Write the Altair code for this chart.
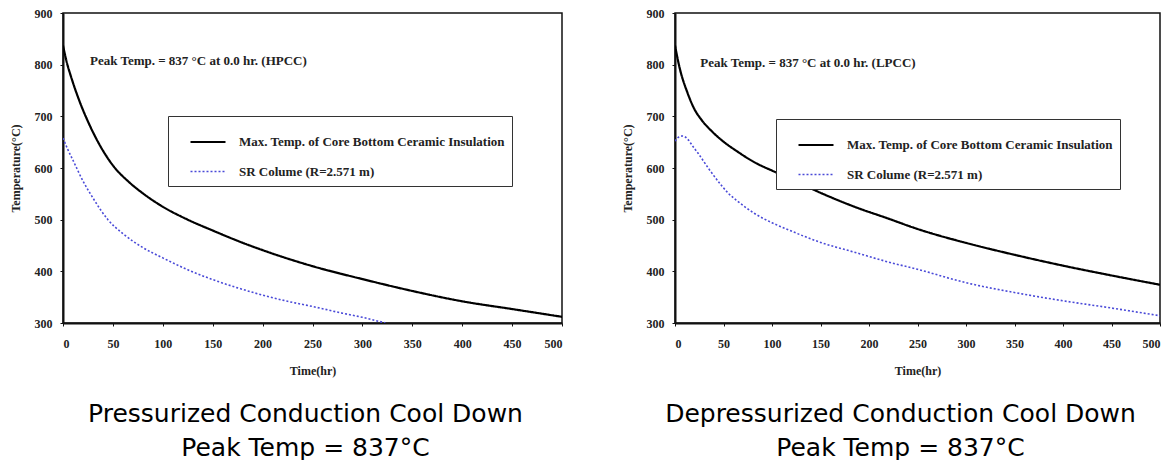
import altair as alt
import pandas as pd

# ---------------- data ----------------
SERIES = ["Max. Temp. of Core Bottom Ceramic Insulation", "SR Colume (R=2.571 m)"]

# Pressurized (HPCC)
hp_core_t = [0, 4, 8, 16, 25, 33, 50, 66, 80, 100, 125, 150, 175, 200, 250, 300, 350, 400, 450, 500]
hp_core_v = [837, 803, 777, 732, 690, 658, 605, 573, 551, 525, 500, 479, 459, 441, 410, 385, 362, 342, 327, 312]
hp_sr_t = [0, 5, 10, 20, 30, 45, 60, 80, 100, 125, 150, 175, 200, 225, 250, 280, 300, 323]
hp_sr_v = [658, 635, 615, 575, 542, 500, 473, 446, 426, 403, 384, 368, 354, 342, 332, 319, 311, 300]

# Depressurized (LPCC)
lp_core_t = [0, 5, 13, 20, 27, 38, 48, 65, 82, 100, 116, 150, 185, 220, 250, 300, 350, 400, 450, 500]
lp_core_v = [837, 792, 745, 714, 694, 671, 654, 631, 611, 595, 582, 552, 525, 502, 482, 455, 432, 411, 392, 374]
lp_sr_t = [0, 4, 8, 13, 18, 24, 35, 48, 55, 65, 82, 100, 116, 150, 185, 220, 250, 300, 350, 400, 450, 500]
lp_sr_v = [652, 660, 662, 656, 643, 628, 598, 566, 551, 535, 512, 494, 481, 456, 437, 418, 404, 378, 359, 343, 329, 314]

x_ticks = [0, 50, 100, 150, 200, 250, 300, 350, 400, 450, 500]
y_ticks = [300, 400, 500, 600, 700, 800, 900]

notes = ["Peak Temp. = 837 °C at 0.0 hr. (HPCC)", "Peak Temp. = 837 °C at 0.0 hr. (LPCC)"]
note_pos = [(27, 807), (26, 804)]
captions = [["Pressurized Conduction Cool Down", "Peak Temp = 837°C"],
            ["Depressurized Conduction Cool Down", "Peak Temp = 837°C"]]

SERIF = "Liberation Serif"


def make_df(ct, cv, st, sv):
    rows = [{"t": t, "temp": v, "series": SERIES[0]} for t, v in zip(ct, cv)]
    rows += [{"t": t, "temp": v, "series": SERIES[1]} for t, v in zip(st, sv)]
    return pd.DataFrame(rows)


def legend(lx, ly):
    return alt.Legend(
        title=None, orient="none", legendX=lx, legendY=ly,
        strokeColor="#333333", fillColor="white", padding=7,
        symbolType="stroke", symbolSize=1225, symbolStrokeWidth=2,
        symbolOffset=14, labelOffset=12,
        labelFont=SERIF, labelFontWeight="bold", labelFontSize=13,
        labelColor="#222222", rowPadding=4, labelLimit=400,
    )


def panel(df, note, pos, caption, w, h, lx, ly, cdx):
    leg = legend(lx, ly)
    lines = alt.Chart(df).mark_line(clip=True, interpolate="monotone").encode(
        x=alt.X("t:Q", scale=alt.Scale(domain=[0, 500], nice=False),
                axis=alt.Axis(values=x_ticks, title="Time(hr)")),
        y=alt.Y("temp:Q", scale=alt.Scale(domain=[300, 900], nice=False),
                axis=alt.Axis(values=y_ticks, title="Temperature(°C)")),
        color=alt.Color("series:N", scale=alt.Scale(domain=SERIES, range=["#000000", "#4a4ad8"]), legend=leg),
        strokeDash=alt.StrokeDash("series:N", scale=alt.Scale(domain=SERIES, range=[[1, 0], [2, 2]]), legend=leg),
        strokeWidth=alt.StrokeWidth("series:N", scale=alt.Scale(domain=SERIES, range=[2.2, 1.6]), legend=None),
    )
    ndf = pd.DataFrame([{"t": pos[0], "temp": pos[1], "label": note}])
    txt = alt.Chart(ndf).mark_text(align="left", baseline="middle", font=SERIF, fontWeight="bold",
                                   fontSize=13, color="#222222").encode(
        x="t:Q", y="temp:Q", text="label:N")
    return alt.layer(lines, txt).properties(
        width=w, height=h,
        title=alt.TitleParams(caption, orient="bottom", anchor="middle", frame="group",
                              font="DejaVu Sans", fontSize=25, fontWeight="normal",
                              lineHeight=34, offset=26, dx=cdx, color="#000000"),
    )


left = panel(make_df(hp_core_t, hp_core_v, hp_sr_t, hp_sr_v), notes[0], note_pos[0],
             captions[0], 499, 310, 105, 103, -7)
right = panel(make_df(lp_core_t, lp_core_v, lp_sr_t, lp_sr_v), notes[1], note_pos[1],
              captions[1], 485, 310, 101, 106, -17)

chart = alt.hconcat(left, right, spacing=56).resolve_scale(
    color="independent", strokeDash="independent", strokeWidth="independent"
).resolve_legend(color="independent", strokeDash="independent").properties(
    padding={"left": 8, "top": 6, "right": 4, "bottom": 2},
    background="white",
).configure_view(stroke="#111111", strokeWidth=1.5).configure_axis(
    grid=False, domainColor="#111111", domainWidth=2, tickColor="#111111", tickSize=3,
    labelFont=SERIF, labelFontWeight="bold", labelFontSize=12, labelColor="#222222",
    titleFont=SERIF, titleFontWeight="bold", titleFontSize=12, titleColor="#222222",
).configure_axisX(labelPadding=12, titlePadding=16).configure_axisY(labelPadding=8, titlePadding=12)

chart.save("out.html", embed_options={"renderer": "svg", "actions": False})
